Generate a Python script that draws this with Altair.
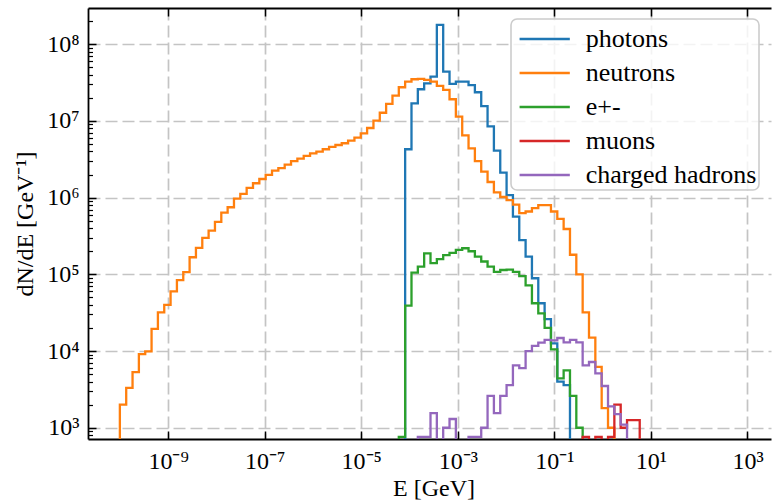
import altair as alt
import numpy as np
import pandas as pd

# ---------------- data ----------------
LOG_EDGE_MIN, LOG_EDGE_MAX, N_BINS = -10.0, 3.0, 99   # log-spaced histogram bins [GeV]

series_names = ["photons", "neutrons", "e+-", "muons", "charged hadrons"]
series_colors = ["#1f77b4", "#ff7f0e", "#2ca02c", "#d62728", "#9467bd"]

# dN/dE per bin, starting at the given bin index (0 = empty bin)
photons_first_bin = 45
photons = [4.28e6, 1.70e7, 2.59e7, 3.10e7, 3.78e7, 1.79e8, 4.40e7, 3.05e7, 3.25e7, 3.25e7,
           2.94e7, 2.37e7, 1.56e7, 8.5e6, 4.1e6, 2.12e6, 1.08e6, 5.65e5, 2.8e5, 1.7e5,
           8.9e4, 4.2e4, 2.6e4, 1.26e4, 4.0e3, 3.6e3]

neutrons_first_bin = 0
neutrons = [2.0e3, 3.3e3, 5.3e3, 9.1e3, 9.9e3, 1.94e4, 3.2e4, 4.0e4, 6.0e4, 8.4e4,
            1.07e5, 1.67e5, 2.21e5, 2.99e5, 3.72e5, 4.82e5, 6.37e5, 7.5e5, 9.7e5, 1.12e6,
            1.34e6, 1.54e6, 1.75e6, 1.98e6, 2.25e6, 2.42e6, 2.69e6, 2.99e6, 3.23e6, 3.5e6,
            3.79e6, 3.98e6, 4.28e6, 4.58e6, 4.86e6, 5.12e6, 5.53e6, 6.05e6, 6.9e6, 8.1e6,
            1.01e7, 1.28e7, 1.67e7, 2.14e7, 2.75e7, 3.25e7, 3.5e7, 3.53e7, 3.43e7, 3.25e7,
            2.86e7, 2.54e7, 1.92e7, 1.14e7, 6.5e6, 4.4e6, 3.0e6, 2.18e6, 1.6e6, 1.17e6,
            1.02e6, 9.3e5, 8.1e5, 6.3e5, 6.6e5, 7.3e5, 8.0e5, 8.0e5, 6.6e5, 5.3e5,
            3.9e5, 1.8e5, 1.0e5, 3.2e4, 1.5e4, 6.2e3, 1.8e3, 1.0e3]

epm_first_bin = 44
epm = [760, 3.9e4, 1.05e5, 1.26e5, 1.88e5, 1.40e5, 1.58e5, 1.78e5, 1.9e5, 2.08e5,
       2.19e5, 2.0e5, 1.7e5, 1.47e5, 1.26e5, 1.08e5, 1.14e5, 1.15e5, 1.08e5, 9.5e4,
       7.2e4, 4.2e4, 3.1e4, 2.0e4, 1.05e4, 4.4e3, 5.6e3, 2.6e3, 1.0e3]

muons_first_bin = 73
muons = [760, 0, 760, 0, 760, 2.0e3, 1.0e3, 1.26e3, 1.26e3]

hadrons_first_bin = 47
hadrons = [760, 760, 1.55e3, 0, 1.0e3, 1.3e3, 0, 0, 760, 760,
           1.0e3, 2.6e3, 1.55e3, 2.6e3, 3.6e3, 6.5e3, 6.0e3, 1.0e4, 1.17e4, 1.29e4,
           1.40e4, 1.38e4, 1.48e4, 1.30e4, 1.40e4, 1.30e4, 6.5e3, 7.2e3, 5.1e3, 3.5e3,
           1.9e3, 1.5e3, 1.1e3]

x_major = [1e-9, 1e-7, 1e-5, 1e-3, 1e-1, 1e1, 1e3]
x_major_labels = ["10⁻⁹", "10⁻⁷", "10⁻⁵", "10⁻³", "10⁻¹", "10¹", "10³"]
y_major = [1e3, 1e4, 1e5, 1e6, 1e7, 1e8]
y_major_labels = ["10³", "10⁴", "10⁵", "10⁶", "10⁷", "10⁸"]
y_minor = [m * 10.0 ** d for d in range(2, 9) for m in range(2, 10)
           if 10 ** 2.853 <= m * 10.0 ** d <= 10 ** 8.473]

X_LOG_DOMAIN = [-10.66, 3.487]
Y_LOG_DOMAIN = [2.853, 8.473]

# ---------------- table ----------------
edges = np.logspace(LOG_EDGE_MIN, LOG_EDGE_MAX, N_BINS + 1)
rows = []
for name, first, vals in [("photons", photons_first_bin, photons),
                          ("neutrons", neutrons_first_bin, neutrons),
                          ("e+-", epm_first_bin, epm),
                          ("muons", muons_first_bin, muons),
                          ("charged hadrons", hadrons_first_bin, hadrons)]:
    full = [0.0] * N_BINS
    for j, v in enumerate(vals):
        full[first + j] = float(v)
    rows.append(dict(series=name, E=edges[0], dNdE=0.0, i=0))
    for k in range(N_BINS):
        rows.append(dict(series=name, E=edges[k], dNdE=full[k], i=k + 1))
    rows.append(dict(series=name, E=edges[N_BINS], dNdE=0.0, i=N_BINS + 1))
df = pd.DataFrame(rows)


def label_expr(vals, labels):
    expr = "''"
    for v, lab in reversed(list(zip(vals, labels))):
        e = round(np.log10(v))
        expr = f"abs(log(datum.value)/LN10 - ({e})) < 0.01 ? '{lab}' : " + expr
    return expr


FONT = "Liberation Serif"
xscale = alt.Scale(type="log", domain=[10 ** X_LOG_DOMAIN[0], 10 ** X_LOG_DOMAIN[1]], nice=False)
yscale = alt.Scale(type="log", domain=[10 ** Y_LOG_DOMAIN[0], 10 ** Y_LOG_DOMAIN[1]], nice=False)

base = alt.Chart(df).transform_calculate(y="max(datum.dNdE, 1)")

grid_kw = dict(grid=True, gridColor="#c4c4c4", gridDash=[12, 5], gridWidth=1.7)

lines = base.mark_line(interpolate="step-after", clip=True, strokeWidth=2.3).encode(
    x=alt.X("E:Q", scale=xscale, axis=alt.Axis(
        values=x_major, labelExpr=label_expr(x_major, x_major_labels), ticks=False,
        domain=True, domainColor="black", domainWidth=1.8,
        labelFont=FONT, labelFontSize=24, labelColor="black", labelPadding=10,
        labelFlush=False, labelOverlap=False,
        title="E [GeV]", titleFont=FONT, titleFontSize=24, titleFontWeight="normal",
        titleColor="black", titleX=345.5, titleY=56, titleBaseline="alphabetic",
        titleAlign="center", **grid_kw)),
    y=alt.Y("y:Q", scale=yscale, axis=alt.Axis(
        values=y_major, labelExpr=label_expr(y_major, y_major_labels), ticks=False,
        domain=True, domainColor="black", domainWidth=1.8,
        labelFont=FONT, labelFontSize=24, labelColor="black", labelPadding=9,
        labelFlush=False, labelOverlap=False,
        title="dN/dE [GeV⁻¹]", titleFont=FONT, titleFontSize=24, titleFontWeight="normal",
        titleColor="black", titleX=-63, titleY=215.5, titleAngle=270,
        titleBaseline="middle", titleAlign="center", **grid_kw)),
    color=alt.Color("series:N", scale=alt.Scale(domain=series_names, range=series_colors),
                    legend=alt.Legend(
                        title=None, orient="none", legendX=423, legendY=11,
                        symbolType="M-1.5,0L1.5,0", symbolSize=1122, symbolStrokeWidth=2.5,
                        symbolOffset=13.7, labelFont=FONT, labelFontSize=26,
                        labelColor="black", labelOffset=23, labelLimit=400,
                        padding=2, rowPadding=3,
                        fillColor="rgba(255,255,255,0.8)", strokeColor="#cccccc",
                        cornerRadius=6)),
    order=alt.Order("i:Q"),
)

tick_kw = dict(labels=False, domain=False, grid=False, title=None, ticks=True,
               tickColor="black", zindex=2)

ticks_a = base.mark_line(strokeOpacity=0).encode(
    x=alt.X("E:Q", scale=xscale, axis=alt.Axis(orient="bottom", offset=-8, values=x_major,
                                               tickSize=8, tickWidth=1.5, **tick_kw)),
    y=alt.Y("y:Q", scale=yscale, axis=alt.Axis(orient="left", offset=-8, values=y_major,
                                               tickSize=8, tickWidth=1.5, **tick_kw)),
    detail="series:N", order=alt.Order("i:Q"),
)

ticks_b = base.mark_line(strokeOpacity=0).encode(
    x=alt.X("E:Q", scale=xscale, axis=alt.Axis(orient="top", offset=-8, values=x_major,
                                               tickSize=8, tickWidth=1.5, **tick_kw)),
    y=alt.Y("y:Q", scale=yscale, axis=alt.Axis(orient="left", offset=-4.5, values=y_minor,
                                               tickSize=4.5, tickWidth=1.2, **tick_kw)),
    detail="series:N", order=alt.Order("i:Q"),
)

top_spine = base.mark_line(strokeOpacity=0).encode(
    x=alt.X("E:Q", scale=xscale, axis=alt.Axis(orient="top", values=x_major, labels=False,
                                               ticks=False, grid=False, title=None,
                                               domain=True, domainColor="black",
                                               domainWidth=1.8, zindex=2)),
    y=alt.Y("y:Q", scale=yscale, axis=None),
    detail="series:N", order=alt.Order("i:Q"),
)

chart = alt.layer(lines, ticks_a, ticks_b, top_spine).resolve_axis(
    x="independent", y="independent"
).properties(
    width=683, height=431,
    autosize=alt.AutoSizeParams(type="none"),
    padding={"left": 88, "top": 8, "right": 1, "bottom": 64},
).configure_view(stroke=None).configure_legend(strokeWidth=1.6)

chart.save("out.html", embed_options={"renderer": "svg", "actions": False})
